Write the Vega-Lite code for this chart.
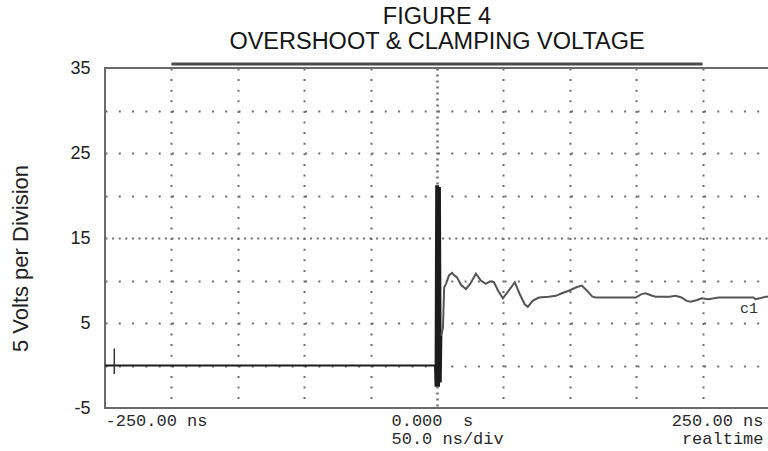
{
  "$schema": "https://vega.github.io/schema/vega-lite/v6.json",
  "width": 664,
  "height": 340,
  "autosize": {"type": "none"},
  "padding": {"left": 105, "top": 68, "right": 0, "bottom": 43},
  "background": "white",
  "config": {"view": {"stroke": "#6a6a6a", "strokeWidth": 2}},
  "title": {
    "text": ["FIGURE 4", "OVERSHOOT & CLAMPING VOLTAGE"],
    "font": "Liberation Sans",
    "fontSize": 23.5,
    "fontWeight": "normal",
    "color": "#151515",
    "lineHeight": 25,
    "anchor": "middle",
    "frame": "group",
    "baseline": "bottom",
    "offset": 12,
    "dy": 30
  },
  "datasets": {
    "trace": [
      {"t": -250, "v": 0, "seg": "a"},
      {"t": -1.5, "v": 0, "seg": "a"},
      {"t": -1.1, "v": -2.5, "seg": "a"},
      {"t": -0.6, "v": 21.2, "seg": "a"},
      {"t": 0.1, "v": -2.5, "seg": "a"},
      {"t": 0.8, "v": 21.2, "seg": "a"},
      {"t": 1.5, "v": -2.5, "seg": "a"},
      {"t": 2.2, "v": 21.0, "seg": "a"},
      {"t": 2.8, "v": -2.0, "seg": "a"},
      {"t": 3.3, "v": 3.5, "seg": "a"},
      {"t": 3.3, "v": 3.5, "seg": "b"},
      {"t": 3.9, "v": 4.0, "seg": "b"},
      {"t": 4.5, "v": 4.5, "seg": "b"},
      {"t": 5.4, "v": 9.2, "seg": "b"},
      {"t": 6.8, "v": 9.6, "seg": "b"},
      {"t": 9.0, "v": 10.6, "seg": "b"},
      {"t": 11.3, "v": 10.9, "seg": "b"},
      {"t": 13, "v": 10.6, "seg": "b"},
      {"t": 15, "v": 10.4, "seg": "b"},
      {"t": 18, "v": 9.5, "seg": "b"},
      {"t": 21.8, "v": 9.0, "seg": "b"},
      {"t": 25, "v": 9.6, "seg": "b"},
      {"t": 29.3, "v": 10.8, "seg": "b"},
      {"t": 33, "v": 10.0, "seg": "b"},
      {"t": 36.8, "v": 9.6, "seg": "b"},
      {"t": 40, "v": 9.9, "seg": "b"},
      {"t": 42.9, "v": 9.8, "seg": "b"},
      {"t": 46, "v": 8.8, "seg": "b"},
      {"t": 49.6, "v": 7.9, "seg": "b"},
      {"t": 54, "v": 8.8, "seg": "b"},
      {"t": 58.6, "v": 9.8, "seg": "b"},
      {"t": 62, "v": 8.5, "seg": "b"},
      {"t": 66, "v": 7.2, "seg": "b"},
      {"t": 68.4, "v": 6.9, "seg": "b"},
      {"t": 72, "v": 7.6, "seg": "b"},
      {"t": 76.7, "v": 8.0, "seg": "b"},
      {"t": 84.2, "v": 8.1, "seg": "b"},
      {"t": 89.5, "v": 8.2, "seg": "b"},
      {"t": 94, "v": 8.5, "seg": "b"},
      {"t": 99.2, "v": 8.8, "seg": "b"},
      {"t": 105, "v": 9.2, "seg": "b"},
      {"t": 109, "v": 9.4, "seg": "b"},
      {"t": 113, "v": 8.8, "seg": "b"},
      {"t": 117, "v": 8.1, "seg": "b"},
      {"t": 119.5, "v": 8.0, "seg": "b"},
      {"t": 149.6, "v": 8.0, "seg": "b"},
      {"t": 154, "v": 8.4, "seg": "b"},
      {"t": 157.1, "v": 8.5, "seg": "b"},
      {"t": 162, "v": 8.2, "seg": "b"},
      {"t": 164.7, "v": 8.1, "seg": "b"},
      {"t": 175, "v": 8.1, "seg": "b"},
      {"t": 179.7, "v": 8.2, "seg": "b"},
      {"t": 184, "v": 8.0, "seg": "b"},
      {"t": 188, "v": 7.6, "seg": "b"},
      {"t": 191, "v": 7.5, "seg": "b"},
      {"t": 196, "v": 7.7, "seg": "b"},
      {"t": 199.2, "v": 7.9, "seg": "b"},
      {"t": 204.5, "v": 7.8, "seg": "b"},
      {"t": 212, "v": 8.0, "seg": "b"},
      {"t": 238.3, "v": 8.0, "seg": "b"},
      {"t": 239.8, "v": 7.8, "seg": "b"},
      {"t": 243, "v": 7.9, "seg": "b"},
      {"t": 247.4, "v": 8.1, "seg": "b"},
      {"t": 250, "v": 8.1, "seg": "b"}
    ],
    "bar": [{"t": -200, "t2": 200, "v": 35}],
    "marker": [{"t": -243, "v": -1, "v2": 2}],
    "notes": [{"t": 235, "v": 6.8, "label": "c1"}]
  },
  "encoding": {
    "x": {
      "field": "t",
      "type": "quantitative",
      "scale": {"domain": [-250, 250], "nice": false, "zero": false},
      "axis": {
        "title": null,
        "values": [-250, -200, -150, -100, -50, 0, 50, 100, 150, 200, 250],
        "domain": false,
        "ticks": false,
        "grid": true,
        "gridColor": "#6e6e6e",
        "gridWidth": {"condition": {"test": "datum.value == 0", "value": 2.5}, "value": 2},
        "gridDash": {"condition": {"test": "datum.value == 0", "value": [2, 4]}, "value": [2, 8.6]},
        "gridOpacity": {"condition": {"test": "datum.value == -250 || datum.value == 250", "value": 0}, "value": 1},
        "labelExpr": "datum.value == -250 ? '-250.00 ns' : datum.value == 0 ? ['\u00a0\u00a0\u00a0\u00a00.000\u00a0\u00a0s', '50.0 ns/div'] : datum.value == 250 ? ['250.00 ns', 'realtime'] : ''",
        "labelFont": "Liberation Mono",
        "labelFontSize": 17,
        "labelColor": "#2a2a2a",
        "labelLineHeight": 18,
        "labelPadding": 4,
        "labelFlush": false,
        "labelOverlap": false,
        "labelBound": false,
        "labelAlign": {"condition": {"test": "datum.value == 250", "value": "right"}, "value": "left"},
        "labelOffset": {"condition": [{"test": "datum.value == 0", "value": -46}, {"test": "datum.value == 250", "value": -6}], "value": 0}
      }
    },
    "y": {
      "field": "v",
      "type": "quantitative",
      "scale": {"domain": [-5, 35], "nice": false, "zero": false},
      "axis": {
        "values": [-5, 0, 5, 10, 15, 20, 25, 30, 35],
        "labelExpr": "datum.value % 10 != 0 ? '' + datum.value : ''",
        "labelFont": "Liberation Sans",
        "labelFontSize": 18,
        "labelColor": "#222",
        "labelPadding": 15,
        "labelOverlap": false,
        "labelFlush": false,
        "ticks": false,
        "domain": false,
        "grid": true,
        "gridColor": "#6e6e6e",
        "gridWidth": 2,
        "gridDash": {"condition": {"test": "datum.value == 15", "value": [2, 4.6]}, "value": [2, 11.3]},
        "gridOpacity": {"condition": {"test": "datum.value == -5 || datum.value == 35", "value": 0}, "value": 1},
        "title": "5 Volts per Division",
        "titleFont": "Liberation Sans",
        "titleFontSize": 22,
        "titleFontWeight": "normal",
        "titleColor": "#222",
        "titleAngle": 270,
        "titleBaseline": "alphabetic",
        "titleX": -78,
        "titleY": 190
      }
    }
  },
  "layer": [
    {
      "data": {"name": "trace"},
      "mark": {"type": "line", "strokeWidth": 2, "interpolate": "linear"},
      "encoding": {
        "color": {
          "field": "seg",
          "type": "nominal",
          "scale": {"domain": ["a", "b"], "range": ["#1c1c1c", "#555555"]},
          "legend": null
        }
      }
    },
    {
      "data": {"name": "bar"},
      "mark": {"type": "rule", "color": "#4a4a4a", "strokeWidth": 3, "yOffset": -4, "clip": false},
      "encoding": {
        "x2": {"field": "t2"}
      }
    },
    {
      "data": {"name": "marker"},
      "mark": {"type": "rule", "color": "#333333", "strokeWidth": 1.5},
      "encoding": {
        "y2": {"field": "v2"}
      }
    },
    {
      "data": {"name": "notes"},
      "mark": {"type": "text", "font": "Liberation Mono", "fontSize": 15, "color": "#333333", "align": "center", "baseline": "middle"},
      "encoding": {
        "text": {"field": "label"}
      }
    }
  ]
}
